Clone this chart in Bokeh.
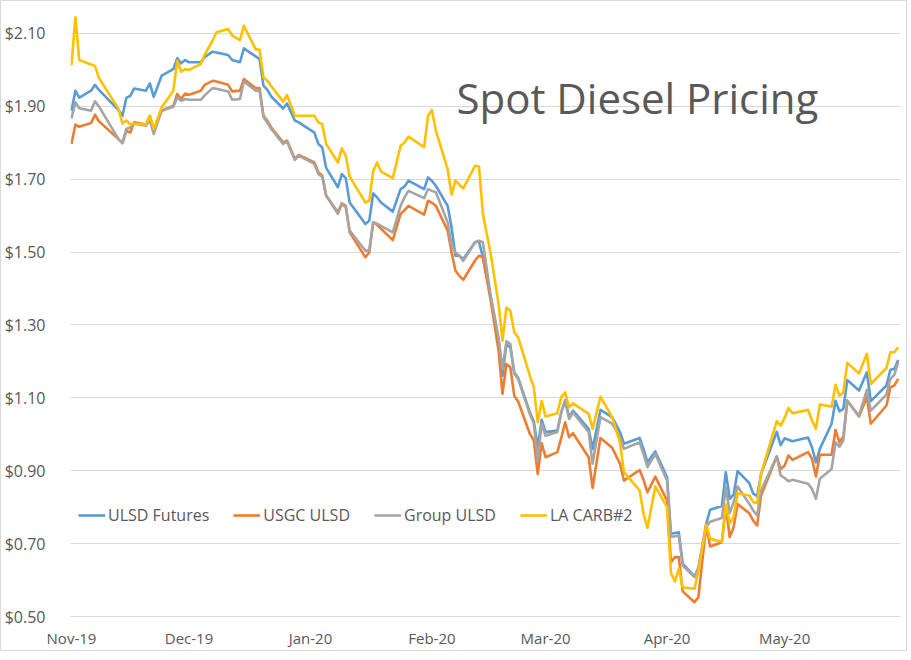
from datetime import datetime
import pandas as pd
from bokeh.plotting import figure
from bokeh.models import (ColumnDataSource, Range1d, FixedTicker, NumeralTickFormatter,
                          DatetimeTickFormatter, Legend, LegendItem, Label)
from bokeh.embed import file_html
from bokeh.resources import INLINE

dates = [
    "2019-11-01", "2019-11-02", "2019-11-03", "2019-11-06", "2019-11-07", "2019-11-08",
    "2019-11-13", "2019-11-14", "2019-11-15", "2019-11-16", "2019-11-17", "2019-11-20",
    "2019-11-21", "2019-11-22", "2019-11-24", "2019-11-27", "2019-11-28", "2019-11-29",
    "2019-11-30",
    "2019-12-01", "2019-12-04", "2019-12-05", "2019-12-07", "2019-12-08", "2019-12-11",
    "2019-12-12", "2019-12-14", "2019-12-15", "2019-12-18", "2019-12-19", "2019-12-20",
    "2019-12-21", "2019-12-22", "2019-12-25", "2019-12-26", "2019-12-28", "2019-12-29",
    "2020-01-02", "2020-01-03", "2020-01-04", "2020-01-05", "2020-01-08", "2020-01-09",
    "2020-01-10", "2020-01-11", "2020-01-15", "2020-01-16", "2020-01-17", "2020-01-18",
    "2020-01-19", "2020-01-22", "2020-01-24", "2020-01-25", "2020-01-26", "2020-01-30",
    "2020-01-31",
    "2020-02-01", "2020-02-02", "2020-02-05", "2020-02-06", "2020-02-07", "2020-02-08",
    "2020-02-09", "2020-02-12", "2020-02-13", "2020-02-14", "2020-02-16", "2020-02-18",
    "2020-02-19", "2020-02-20", "2020-02-21", "2020-02-22", "2020-02-23", "2020-02-26",
    "2020-02-27", "2020-02-28", "2020-02-29",
    "2020-03-01", "2020-03-04", "2020-03-05", "2020-03-06", "2020-03-07", "2020-03-08",
    "2020-03-12", "2020-03-13", "2020-03-15", "2020-03-18", "2020-03-20", "2020-03-21",
    "2020-03-25", "2020-03-26", "2020-03-27", "2020-03-29",
    "2020-04-01", "2020-04-02", "2020-04-03", "2020-04-04", "2020-04-05", "2020-04-08",
    "2020-04-09", "2020-04-11", "2020-04-12", "2020-04-15", "2020-04-16", "2020-04-17",
    "2020-04-18", "2020-04-19", "2020-04-22", "2020-04-23", "2020-04-24", "2020-04-25",
    "2020-04-29", "2020-04-30",
    "2020-05-01", "2020-05-02", "2020-05-03", "2020-05-07", "2020-05-08", "2020-05-09",
    "2020-05-10", "2020-05-13", "2020-05-14", "2020-05-15", "2020-05-16", "2020-05-17",
    "2020-05-20", "2020-05-22", "2020-05-23", "2020-05-27", "2020-05-28", "2020-05-29",
    "2020-05-30",
]

ulsd_futures = [
    1.888, 1.943, 1.924, 1.943, 1.959, 1.945, 1.890, 1.874, 1.923, 1.929, 1.949, 1.943,
    1.963, 1.926, 1.984, 2.002, 2.032, 2.018, 2.027,
    2.021, 2.021, 2.035, 2.050, 2.048, 2.041, 2.027, 2.021, 2.059, 2.037, 2.030, 1.957,
    1.945, 1.927, 1.894, 1.908, 1.861, 1.856,
    1.828, 1.797, 1.787, 1.731, 1.678, 1.714, 1.703, 1.636, 1.577, 1.586, 1.661, 1.650,
    1.636, 1.611, 1.673, 1.680, 1.696, 1.673, 1.705,
    1.695, 1.682, 1.627, 1.568, 1.490, 1.490, 1.481, 1.527, 1.529, 1.486, 1.376, 1.257,
    1.161, 1.246, 1.239, 1.170, 1.155, 1.060, 1.036, 0.964, 1.040,
    1.006, 1.010, 1.060, 1.094, 1.047, 1.065, 1.015, 0.960, 1.067, 1.047, 1.006, 0.974,
    0.990, 0.960, 0.923, 0.953,
    0.882, 0.727, 0.729, 0.731, 0.645, 0.610, 0.630, 0.755, 0.793, 0.803, 0.896, 0.823,
    0.835, 0.899, 0.866, 0.837, 0.830, 0.891, 1.007, 0.970,
    0.989, 0.985, 0.981, 0.991, 0.964, 0.923, 0.960, 1.029, 1.092, 1.063, 1.070, 1.149,
    1.120, 1.170, 1.091, 1.134, 1.177, 1.179, 1.204,
]

usgc_ulsd = [
    1.797, 1.850, 1.844, 1.854, 1.877, 1.859, 1.810, 1.799, 1.833, 1.828, 1.856, 1.850,
    1.874, 1.833, 1.888, 1.902, 1.934, 1.920, 1.935,
    1.932, 1.943, 1.959, 1.970, 1.968, 1.959, 1.941, 1.943, 1.975, 1.950, 1.950, 1.874,
    1.860, 1.842, 1.801, 1.806, 1.756, 1.767,
    1.746, 1.719, 1.710, 1.655, 1.609, 1.634, 1.627, 1.554, 1.486, 1.499, 1.582, 1.575,
    1.564, 1.533, 1.605, 1.615, 1.627, 1.603, 1.641,
    1.635, 1.627, 1.559, 1.500, 1.449, 1.435, 1.424, 1.477, 1.490, 1.486, 1.367, 1.230,
    1.111, 1.193, 1.184, 1.106, 1.090, 1.001, 0.983, 0.891, 0.976,
    0.937, 0.951, 0.990, 1.033, 0.992, 1.003, 0.937, 0.853, 0.990, 0.963, 0.919, 0.873,
    0.902, 0.875, 0.841, 0.884,
    0.818, 0.649, 0.663, 0.663, 0.569, 0.539, 0.553, 0.750, 0.692, 0.704, 0.804, 0.718,
    0.745, 0.809, 0.783, 0.763, 0.750, 0.832, 0.939, 0.905,
    0.914, 0.942, 0.930, 0.951, 0.933, 0.884, 0.944, 0.944, 1.012, 0.978, 0.994, 1.093,
    1.049, 1.102, 1.029, 1.079, 1.129, 1.134, 1.152,
]

group_ulsd = [
    1.867, 1.911, 1.895, 1.888, 1.914, 1.900, 1.810, 1.799, 1.838, 1.842, 1.853, 1.847,
    1.862, 1.824, 1.888, 1.899, 1.924, 1.915, 1.920,
    1.918, 1.918, 1.930, 1.950, 1.948, 1.941, 1.918, 1.920, 1.968, 1.943, 1.943, 1.871,
    1.855, 1.838, 1.797, 1.804, 1.753, 1.765,
    1.742, 1.714, 1.707, 1.655, 1.605, 1.632, 1.623, 1.559, 1.504, 1.504, 1.582, 1.578,
    1.572, 1.554, 1.627, 1.650, 1.668, 1.648, 1.673,
    1.668, 1.664, 1.582, 1.520, 1.499, 1.490, 1.476, 1.527, 1.531, 1.527, 1.380, 1.265,
    1.179, 1.255, 1.248, 1.166, 1.152, 1.055, 1.029, 0.928, 1.029,
    0.996, 1.006, 1.060, 1.092, 1.042, 1.060, 1.006, 0.919, 1.047, 1.029, 0.992, 0.960,
    0.978, 0.946, 0.910, 0.946,
    0.873, 0.718, 0.720, 0.722, 0.640, 0.608, 0.635, 0.745, 0.760, 0.770, 0.855, 0.784,
    0.814, 0.857, 0.809, 0.791, 0.777, 0.846, 0.939, 0.887,
    0.880, 0.871, 0.875, 0.864, 0.850, 0.823, 0.878, 0.905, 0.978, 0.966, 0.983, 1.091,
    1.051, 1.122, 1.065, 1.109, 1.152, 1.163, 1.198,
]

la_carb2 = [
    2.013, 2.144, 2.027, 2.015, 2.011, 1.978, 1.893, 1.853, 1.861, 1.851, 1.852, 1.850,
    1.874, 1.838, 1.897, 1.943, 2.025, 1.995, 2.002,
    2.000, 2.016, 2.042, 2.080, 2.103, 2.112, 2.094, 2.082, 2.121, 2.057, 2.055, 1.979,
    1.970, 1.955, 1.913, 1.931, 1.874, 1.874,
    1.874, 1.856, 1.851, 1.797, 1.746, 1.785, 1.765, 1.707, 1.636, 1.641, 1.723, 1.746,
    1.721, 1.703, 1.792, 1.801, 1.817, 1.788, 1.874,
    1.890, 1.833, 1.728, 1.658, 1.696, 1.685, 1.675, 1.737, 1.735, 1.605, 1.495, 1.358,
    1.257, 1.348, 1.339, 1.280, 1.266, 1.160, 1.129, 1.033, 1.091,
    1.049, 1.058, 1.102, 1.115, 1.074, 1.085, 1.056, 1.015, 1.103, 1.047, 0.978, 0.896,
    0.846, 0.782, 0.743, 0.857,
    0.800, 0.619, 0.596, 0.631, 0.580, 0.576, 0.625, 0.752, 0.713, 0.705, 0.807, 0.756,
    0.773, 0.838, 0.832, 0.814, 0.811, 0.891, 1.036, 1.024,
    1.045, 1.072, 1.058, 1.067, 1.038, 1.015, 1.082, 1.076, 1.136, 1.106, 1.115, 1.196,
    1.167, 1.221, 1.138, 1.182, 1.225, 1.225, 1.239,
]

series_names = ["ULSD Futures", "USGC ULSD", "Group ULSD", "LA CARB#2"]
month_ticks = ["2019-11-01", "2019-12-01", "2020-01-01", "2020-02-01",
               "2020-03-01", "2020-04-01", "2020-05-01"]
y_ticks = [0.50, 0.70, 0.90, 1.10, 1.30, 1.50, 1.70, 1.90, 2.10]
chart_title = "Spot Diesel Pricing"

colors = ["#5B9BD5", "#ED7D31", "#A5A5A5", "#FFC000"]
FONT = "Open Sans"
TXT = "#595959"
GRID = "#D9D9D9"

src = ColumnDataSource(dict(
    x=pd.to_datetime(dates),
    s0=ulsd_futures, s1=usgc_ulsd, s2=group_ulsd, s3=la_carb2,
))

p = figure(
    x_axis_type="datetime",
    frame_width=830, frame_height=606,
    min_border_left=63, min_border_right=6, min_border_top=9, min_border_bottom=30,
    x_range=Range1d(datetime(2019, 10, 31, 18), datetime(2020, 5, 30, 14)),
    y_range=Range1d(0.50, 2.163),
    output_backend="svg", toolbar_location=None,
    background_fill_color="white", border_fill_color="white",
)
p.outline_line_color = None
p.styles = {"border": "1px solid #D9D9D9"}

renderers = []
for i, name in enumerate(series_names):
    r = p.line("x", f"s{i}", source=src, line_color=colors[i], line_width=2.6,
               line_join="round")
    renderers.append(r)

# axes
xa = p.xaxis[0]
xa.ticker = FixedTicker(ticks=[pd.Timestamp(d).timestamp() * 1000 for d in month_ticks])
xa.formatter = DatetimeTickFormatter(days="%b-%y", months="%b-%y", years="%b-%y")
xa.axis_line_color = GRID
xa.major_tick_line_color = None
xa.minor_tick_line_color = None
xa.major_label_text_font = FONT
xa.major_label_text_font_size = "15px"
xa.major_label_text_color = TXT
xa.major_label_standoff = 5

ya = p.yaxis[0]
ya.ticker = FixedTicker(ticks=y_ticks)
ya.formatter = NumeralTickFormatter(format="$0.00")
ya.axis_line_color = None
ya.major_tick_line_color = None
ya.minor_tick_line_color = None
ya.major_label_text_font = FONT
ya.major_label_text_font_size = "16px"
ya.major_label_text_color = TXT
ya.major_label_standoff = 19

p.xgrid.grid_line_color = None
p.ygrid.grid_line_color = GRID
p.ygrid.grid_line_width = 1

legend = Legend(
    items=[LegendItem(label=n, renderers=[r]) for n, r in zip(series_names, renderers)],
    orientation="horizontal", location=(8, 90),
    glyph_width=27, glyph_height=20, label_standoff=3, spacing=24,
    padding=0, margin=0, border_line_color=None, background_fill_alpha=0,
    label_text_font=FONT, label_text_font_size="16px", label_text_color=TXT,
)
p.add_layout(legend)

title = Label(
    x=pd.Timestamp("2020-02-07 06:00").timestamp() * 1000, y=1.923,
    text=chart_title, text_font=FONT, text_font_size="42px", text_color=TXT,
    text_align="left", text_baseline="alphabetic",
)
p.add_layout(title)

open("out.html", "w").write(file_html(p, INLINE))
